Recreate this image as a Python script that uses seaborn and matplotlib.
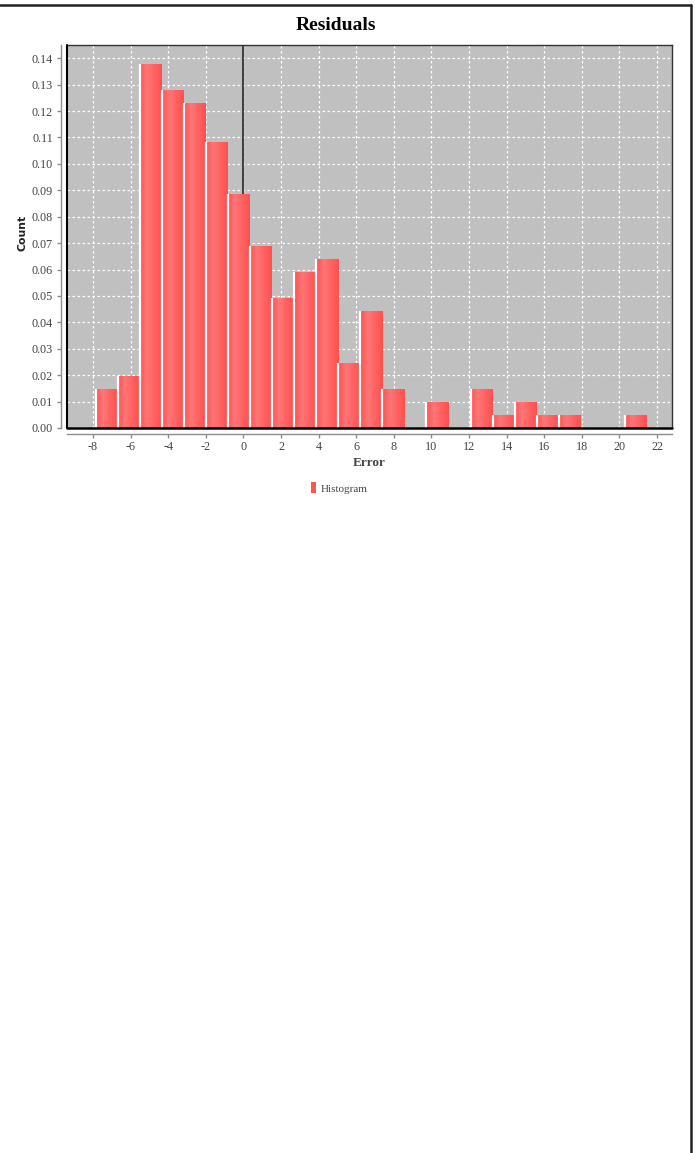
import numpy as np
import pandas as pd
import matplotlib
matplotlib.use("Agg")
import matplotlib.pyplot as plt
from matplotlib.lines import Line2D
from matplotlib.patches import Patch
from matplotlib.colors import LinearSegmentedColormap
import seaborn as sns

# histogram of residuals (relative frequency per bin)
bin_start = -7.88
bin_width = 1.172
freq = [0.0148, 0.0197, 0.1379, 0.1281, 0.1232, 0.1084, 0.0887, 0.0690,
        0.0493, 0.0591, 0.0640, 0.0246, 0.0443, 0.0148, 0.0, 0.0099,
        0.0, 0.0148, 0.0049, 0.0099, 0.0049, 0.0049, 0.0, 0.0, 0.0049]
xticks = list(range(-8, 23, 2))
yticks = [i / 100 for i in range(0, 15)]

edges = bin_start + bin_width * np.arange(len(freq) + 1)
df = pd.DataFrame({"center": (edges[:-1] + edges[1:]) / 2, "freq": freq})

sns.set_style("white")
plt.rcParams['font.family'] = ['Liberation Serif', 'DejaVu Serif']

fig = plt.figure(figsize=(6.95, 11.53), dpi=100)
W, H = 695, 1153
ax = fig.add_axes([67 / W, 1 - 428 / H, (672 - 67) / W, (428 - 45) / H])
ax.set_facecolor("#c0c0c0")

# zero line behind the bars
ax.axvline(0, color="#333333", lw=1.3, zorder=1)

sns.histplot(data=df, x="center", weights="freq", bins=list(edges),
             stat="count", color="#ff5555", alpha=1, edgecolor="none",
             linewidth=0, ax=ax, zorder=2)

# gradient fill + white left edge like the original bar painter
cmap = LinearSegmentedColormap.from_list(
    "bar", [(0, "#ff5050"), (0.35, "#ff7676"), (0.8, "#ff5a5a"), (1, "#ff5050")])
grad = np.linspace(0, 1, 64).reshape(1, -1)
for p in list(ax.patches):
    h = p.get_height()
    if h <= 0:
        continue
    x0 = p.get_x()
    w = p.get_width()
    im = ax.imshow(grad, cmap=cmap, aspect="auto", extent=(x0, x0 + w, 0, h),
                   zorder=3, interpolation="bilinear")
    im.set_clip_path(p)
    ax.plot([x0 + 0.04, x0 + 0.04], [0, h], color="white", lw=1.6,
            solid_capstyle="butt", zorder=4)

ax.set_xlim(-9.38, 22.8)
ax.set_ylim(0, 0.145)
ax.set_xticks(xticks)
ax.set_xticklabels([str(t) for t in xticks])
ax.set_yticks(yticks)
ax.set_yticklabels([f"{t:.2f}" for t in yticks])

ax.grid(True, color="white", lw=0.9, ls=(0, (2, 2)))
ax.set_axisbelow(True)

for s in ["top", "right"]:
    ax.spines[s].set_color("#333333")
    ax.spines[s].set_linewidth(1.0)
for s in ["left", "bottom"]:
    ax.spines[s].set_position(("outward", 4))
    ax.spines[s].set_color("#8c8c8c")
    ax.spines[s].set_linewidth(1.0)
# plot outline on left/bottom
ax.plot([0, 0], [0, 1], transform=ax.transAxes, color="black", lw=1.5,
        clip_on=False, zorder=5)
ax.plot([0, 1], [0, 0], transform=ax.transAxes, color="black", lw=1.8,
        clip_on=False, zorder=5)

ax.tick_params(axis="both", direction="out", length=3, width=1,
               color="#8c8c8c", labelsize=8.7, labelcolor="#444444",
               left=True, bottom=True)
ax.tick_params(axis="y", pad=3)
ax.tick_params(axis="x", pad=2)

ax.set_xlabel("Error", fontsize=9.5, fontweight="bold", color="#444444",
              labelpad=3)
ax.set_ylabel("Count", fontsize=7.8, fontweight="bold", color="#222222",
              family=["DejaVu Sans"])
ax.yaxis.set_label_coords((28 - 67) / 605, (428 - 233) / 383)

fig.text(336 / W, 1 - 26 / H, "Residuals", ha="center", va="center",
         fontsize=14, fontweight="bold", color="black")

fig.legend(handles=[Patch(facecolor="#ff5555", edgecolor="none")],
           labels=["Histogram"], loc="center",
           bbox_to_anchor=(339 / W, 1 - 488 / H), frameon=False,
           handlelength=0.5, handleheight=1.1, handletextpad=0.4,
           fontsize=8, labelcolor="#444444")

# outer frame (top and right edges)
fig.add_artist(Line2D([0, 690.5 / W], [1 - 5 / H, 1 - 5 / H],
                      color="#222222", lw=1.8))
fig.add_artist(Line2D([690.5 / W, 690.5 / W], [0, 1 - 5 / H],
                      color="#222222", lw=1.8))

fig.savefig("out.png", dpi=100)
